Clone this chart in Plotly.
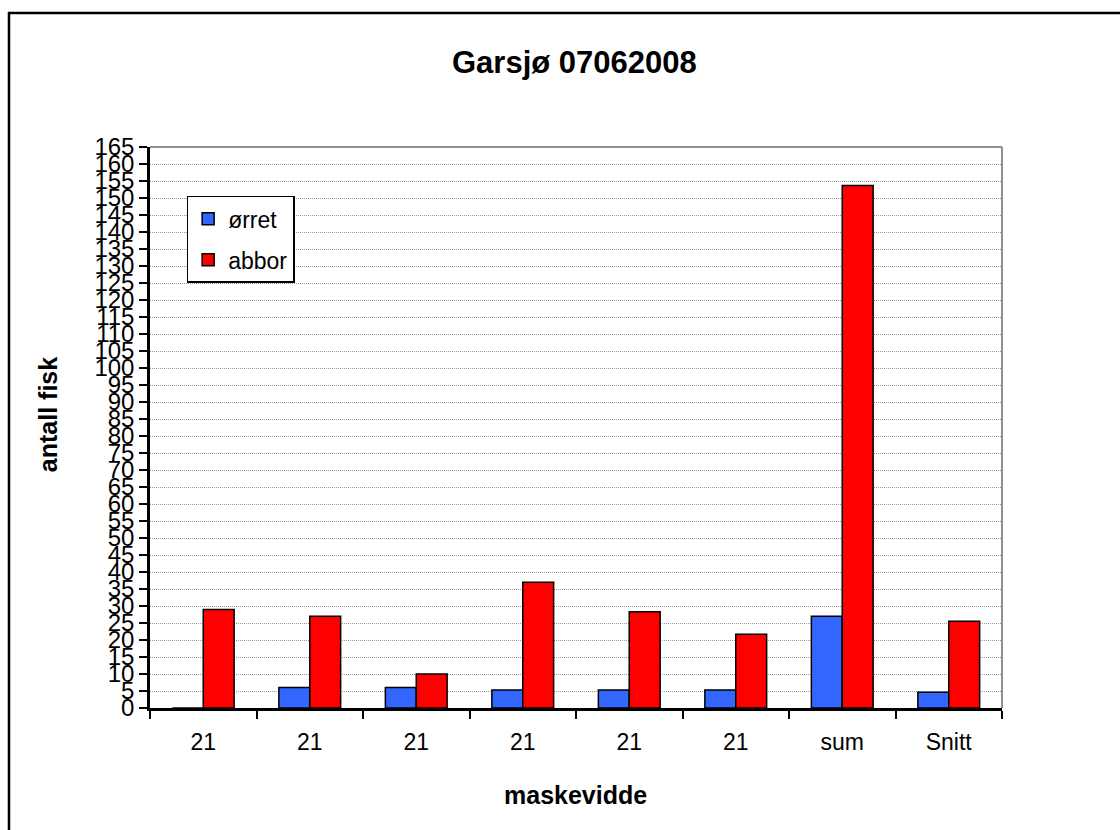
import plotly.graph_objects as go

# data
category_ids = ["m1", "m2", "m3", "m4", "m5", "m6", "sum", "snitt"]
category_labels = ["21", "21", "21", "21", "21", "21", "sum", "Snitt"]
orret = [0, 6, 6, 5.3, 5.3, 5.3, 27, 4.6]
abbor = [29, 27, 10, 37, 28.3, 21.7, 153.7, 25.5]

FONT = "Liberation Sans, Arial, sans-serif"

fig = go.Figure()
fig.add_trace(go.Bar(
    x=category_ids, y=orret, name="ørret",
    marker=dict(color="#3366FF", line=dict(color="black", width=1.5)),
    legendgroup="a",
))
fig.add_trace(go.Bar(
    x=category_ids, y=abbor, name="abbor",
    marker=dict(color="#FF0000", line=dict(color="black", width=1.5)),
    legendgroup="b",
))

fig.update_layout(
    width=1120, height=830, autosize=False,
    margin=dict(l=150, r=118, t=147, b=122),
    paper_bgcolor="white", plot_bgcolor="white",
    font=dict(family=FONT, color="black", size=23),
    barmode="group", bargap=0.42, bargroupgap=0,
    showlegend=True,
    legend=dict(
        x=0.043, y=0.913, xanchor="left", yanchor="top",
        bordercolor="black", borderwidth=1.5, bgcolor="white",
        font=dict(family=FONT, size=23),
        traceorder="grouped", tracegroupgap=8,
    ),
)

fig.update_xaxes(
    type="category", tickvals=category_ids, ticktext=category_labels,
    tickson="boundaries", ticks="outside", ticklen=8, tickwidth=2, tickcolor="black",
    showline=True, linecolor="black", linewidth=2.5,
    showgrid=False, tickfont=dict(size=23), ticklabelstandoff=12,
)
fig.update_yaxes(
    range=[0, 165], dtick=5, tick0=0,
    ticks="outside", ticklen=8, tickwidth=1.5, tickcolor="black",
    showline=True, linecolor="black", linewidth=2.5,
    showgrid=True, gridcolor="#9a9a9a", griddash="1px,1px", gridwidth=1,
    zeroline=False, tickfont=dict(size=24),
)

# plot-area border (top and right) and the outer chart frame
fig.add_shape(type="line", xref="paper", yref="paper", x0=0, x1=1, y0=1, y1=1,
              line=dict(color="#909090", width=2), layer="above")
fig.add_shape(type="line", xref="paper", yref="paper", x0=1, x1=1, y0=0, y1=1,
              line=dict(color="#909090", width=2), layer="above")
fig.add_shape(type="rect", xref="paper", yref="paper",
              x0=-0.1655, x1=1.15, y0=-0.23, y1=1.2389,
              line=dict(color="black", width=2.5), layer="below")

fig.add_annotation(text="<b>Garsjø 07062008</b>", xref="paper", yref="paper",
                   x=0.498, y=1.1515, xanchor="center", yanchor="middle",
                   showarrow=False, font=dict(size=31))
fig.add_annotation(text="<b>maskevidde</b>", xref="paper", yref="paper",
                   x=0.499, y=-0.155, xanchor="center", yanchor="middle",
                   showarrow=False, font=dict(size=25))
fig.add_annotation(text="<b>antall fisk</b>", xref="paper", yref="paper",
                   x=-0.1197, y=0.522, xanchor="center", yanchor="middle",
                   showarrow=False, textangle=-90, font=dict(size=25))

fig.write_html("out.html", config={"displayModeBar": False},
               post_script="document.body.style.margin='0';")
